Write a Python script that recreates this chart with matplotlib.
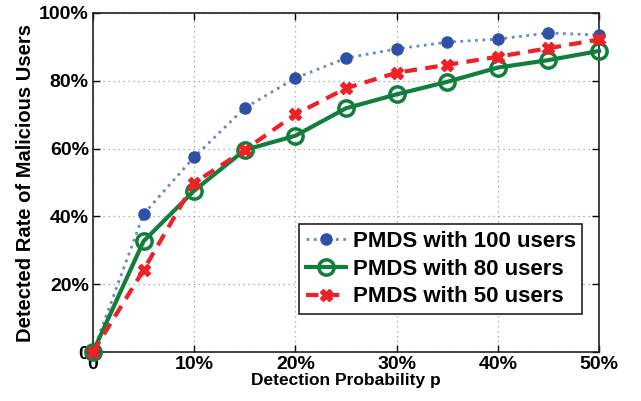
import matplotlib
matplotlib.use("Agg")
import matplotlib.pyplot as plt
from matplotlib.ticker import FuncFormatter

plt.rcParams['font.family'] = ['Liberation Sans', 'DejaVu Sans']
plt.rcParams['font.weight'] = 'bold'

p = [0, 5, 10, 15, 20, 25, 30, 35, 40, 45, 50]
users100 = [0, 40.7, 57.5, 72.0, 80.8, 86.7, 89.4, 91.4, 92.3, 94.1, 93.5]
users80 = [0, 32.7, 47.6, 59.6, 63.8, 71.9, 76.0, 79.7, 83.9, 86.1, 88.8]
users50 = [0, 24.2, 49.9, 59.6, 70.1, 77.8, 82.4, 84.7, 87.1, 89.6, 92.2]
labels = ['PMDS with 100 users', 'PMDS with 80 users', 'PMDS with 50 users']
xticks = [0, 10, 20, 30, 40, 50]
yticks = [0, 20, 40, 60, 80, 100]

fig = plt.figure(figsize=(6.41, 4.01), dpi=100)
ax = fig.add_axes([0.145, 0.122, 0.7895, 0.8456])

ax.plot(p, users100, linestyle=':', color='#6f86c8', linewidth=2.0,
        marker='o', markersize=8, markerfacecolor='#2e50a6', markeredgecolor='#2e50a6',
        label=labels[0], zorder=3, clip_on=False)
ax.plot(p, users80, linestyle='-', color='#0f7f3b', linewidth=3.0,
        marker='o', markersize=11, markerfacecolor='none', markeredgecolor='#0f7f3b',
        markeredgewidth=2.5, label=labels[1], zorder=4, clip_on=False)
ax.plot(p, users50, linestyle='--', color='#ee2226', linewidth=3.0, dashes=(3, 2),
        marker='X', markersize=8, markerfacecolor='#ee2226', markeredgecolor='#ee2226',
        label=labels[2], zorder=5, clip_on=False)

ax.set_xlim(0, 50)
ax.set_ylim(0, 100)
ax.set_xticks(xticks)
ax.set_yticks(yticks)
ax.xaxis.set_major_formatter(FuncFormatter(lambda v, _: '0' if v == 0 else f'{int(v)}%'))
ax.yaxis.set_major_formatter(FuncFormatter(lambda v, _: '0' if v == 0 else f'{int(v)}%'))
ax.tick_params(direction='in', top=True, right=True, labelsize=14, length=5, width=1, pad=3)
for lab in ax.get_xticklabels() + ax.get_yticklabels():
    lab.set_fontweight('bold')
ax.grid(True, linestyle=(0, (1, 3)), color='#999999', linewidth=0.9)
for s in ax.spines.values():
    s.set_linewidth(1.2)
    s.set_color('#222222')

ax.set_xlabel('Detection Probability p', fontsize=12.5, fontweight='bold', labelpad=0)
ax.set_ylabel('Detected Rate of Malicious Users', fontsize=14.5, fontweight='bold', labelpad=3)

leg = ax.legend(loc='lower right', bbox_to_anchor=(0.967, 0.112),
                prop={'weight': 'bold', 'size': 16}, fancybox=False, framealpha=1,
                edgecolor='#222222', handlelength=1.8, handletextpad=0.3,
                borderpad=0.3, labelspacing=0.3, borderaxespad=0)
leg.get_frame().set_linewidth(1.2)

fig.savefig('out.png', dpi=100)
